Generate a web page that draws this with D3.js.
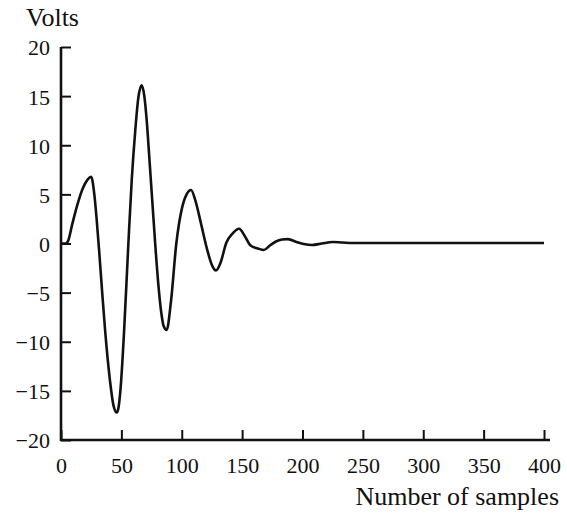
<!DOCTYPE html>
<meta charset="utf-8">
<style>

body {
  margin: 0;
  background: #fff;
}

text {
  font-family: "Liberation Serif", "Times New Roman", serif;
  fill: #111;
}

.tickLabel {
  font-size: 22px;
}

.axisLabel {
  font-size: 26px;
}

.signal {
  fill: none;
  stroke: #111;
  stroke-width: 2.6px;
  stroke-linejoin: round;
}

</style>
<body>
<script src="https://d3js.org/d3.v7.min.js"></script>
<script>

// samples
const samples = [0, 4, 6, 9, 13, 18, 22, 25, 27.6, 29.5, 31.5, 34, 36.5, 40.6, 43.5, 46.2, 47.5, 49.5, 52, 55.8,
                 58.6, 61.5, 64, 66.8, 69, 71, 73, 75.5, 78, 80.5, 83, 85, 87.5, 91, 95.5, 100, 104, 107.7, 111, 116,
                 121, 125, 128.4, 132, 137, 142, 147.5, 152, 157, 163, 168, 173, 178, 183, 188, 195, 201,
                 208, 216, 225, 233, 242, 260, 300, 350, 400];
const volts = [0, 0, 0.3, 1.8, 3.7, 5.6, 6.5, 6.8, 5.0, 2.5, -0.6, -4.8, -8.8, -14, -16.5, -17.2, -16.8, -14.5, -9.5, 0,
               6.5, 11.5, 14.8, 16.1, 15, 12.5, 9, 4.5, 0, -4, -7, -8.4, -8.8, -6, 0, 3.5, 5.0, 5.45, 4.5, 2,
               -0.6, -2.2, -2.75, -2, 0.1, 1.0, 1.5, 0.8, -0.2, -0.5, -0.66, -0.2, 0.2, 0.4, 0.45, 0.15, -0.05,
               -0.15, 0, 0.15, 0.1, 0.05, 0.05, 0.05, 0.05, 0.05];

const xTicks = [0, 50, 100, 150, 200, 250, 300, 350, 400],
      yTicks = [-20, -15, -10, -5, 0, 5, 10, 15, 20];

let width = 567,
    height = 514;

let svg = d3.select("body").append("svg")
            .attr("width", width)
            .attr("height", height);

let x = d3.scaleLinear().domain([0, 400]).range([61, 544]),
    y = d3.scaleLinear().domain([-20, 20]).range([440, 47]);

// axis lines
svg.append("line")
    .attr("x1", x(0)).attr("x2", x(0))
    .attr("y1", y(20)).attr("y2", y(-20) + 1)
    .attr("stroke", "#111").attr("stroke-width", 2.6);

svg.append("line")
    .attr("x1", x(0) - 1).attr("x2", x(400) + 6)
    .attr("y1", y(-20)).attr("y2", y(-20))
    .attr("stroke", "#111").attr("stroke-width", 2.6);

// ticks point inward
let xAxis = svg.append("g")
    .attr("transform", `translate(0,${y(-20)})`)
    .call(d3.axisBottom(x).tickValues(xTicks).tickSizeInner(-10).tickSizeOuter(0).tickPadding(0));

let yAxis = svg.append("g")
    .attr("transform", `translate(${x(0)},0)`)
    .call(d3.axisLeft(y).tickValues(yTicks).tickSizeInner(-10).tickSizeOuter(0).tickPadding(0));

[xAxis, yAxis].forEach(g => {
    g.select(".domain").remove();
    g.selectAll(".tick line").attr("stroke", "#111").attr("stroke-width", 2);
    g.selectAll(".tick text").remove();
    g.attr("font-family", null).attr("font-size", null);
});

xAxis.selectAll(".tick")
    .append("text")
        .attr("class", "tickLabel")
        .attr("y", 33)
        .attr("text-anchor", "middle")
        .text(d => d);

yAxis.selectAll(".tick")
    .append("text")
        .attr("class", "tickLabel")
        .attr("x", -11)
        .attr("dy", "0.36em")
        .attr("text-anchor", "end")
        .text(d => d < 0 ? "\u2212" + Math.abs(d) : d);

// the waveform
let line = d3.line()
    .x((d, i) => x(samples[i]))
    .y(d => y(d))
    .curve(d3.curveMonotoneX);

svg.append("path")
    .attr("class", "signal")
    .attr("d", line(volts));

svg.append("text")
    .attr("class", "axisLabel")
    .attr("x", 26)
    .attr("y", 26)
    .text("Volts");

svg.append("text")
    .attr("class", "axisLabel")
    .attr("x", 559)
    .attr("y", 505)
    .attr("text-anchor", "end")
    .text("Number of samples");

</script>
